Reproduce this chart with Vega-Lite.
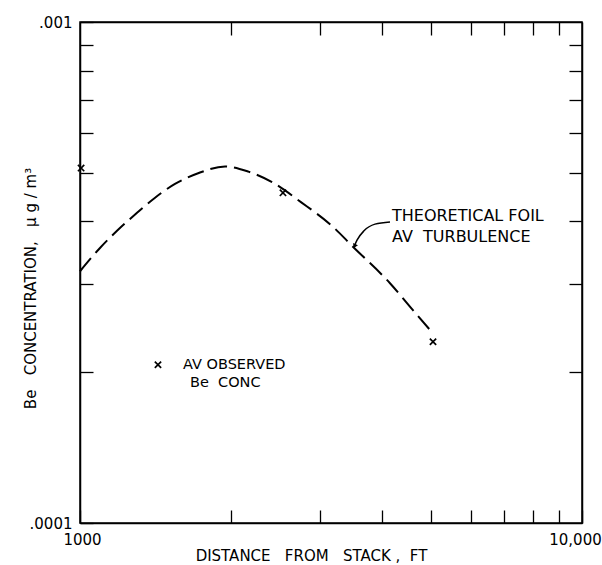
{
  "$schema": "https://vega.github.io/schema/vega-lite/v6.json",
  "width": 502,
  "height": 501,
  "autosize": {"type": "none"},
  "padding": {"left": 80, "top": 22, "right": 20, "bottom": 42},
  "background": "white",
  "config": {
    "view": {"stroke": "black", "strokeWidth": 1.5},
    "axis": {
      "grid": false,
      "domainColor": "black",
      "domainWidth": 1.5,
      "tickColor": "black",
      "tickWidth": 1.3,
      "tickSize": -13,
      "labelColor": "black",
      "titleColor": "black",
      "labelFont": "DejaVu Sans",
      "titleFont": "DejaVu Sans",
      "labelFontSize": 15,
      "titleFontSize": 15,
      "titleFontWeight": "normal"
    }
  },
  "datasets": {
    "curve": [
      {"distance": 1000, "conc": 0.000318},
      {"distance": 1096, "conc": 0.000354},
      {"distance": 1185, "conc": 0.000383},
      {"distance": 1299, "conc": 0.000416},
      {"distance": 1411, "conc": 0.000446},
      {"distance": 1546, "conc": 0.000475},
      {"distance": 1719, "conc": 0.000499},
      {"distance": 1945, "conc": 0.000515},
      {"distance": 2161, "conc": 0.000503},
      {"distance": 2413, "conc": 0.000479},
      {"distance": 2755, "conc": 0.000437},
      {"distance": 3192, "conc": 0.00039},
      {"distance": 3497, "conc": 0.000356},
      {"distance": 4145, "conc": 0.000301},
      {"distance": 4605, "conc": 0.000266},
      {"distance": 5049, "conc": 0.000239}
    ],
    "observed": [
      {"distance": 1005, "conc": 0.000511},
      {"distance": 2537, "conc": 0.000456},
      {"distance": 5049, "conc": 0.00023},
      {"distance": 1430, "conc": 0.000207}
    ],
    "arrow": [
      {"distance": 4145, "conc": 0.000399},
      {"distance": 3870, "conc": 0.000395},
      {"distance": 3679, "conc": 0.000383},
      {"distance": 3563, "conc": 0.000367},
      {"distance": 3515, "conc": 0.000356}
    ],
    "arrowhead": [
      {"distance": 3523, "conc": 0.000357}
    ],
    "annotation": [
      {"distance": 4183, "conc": 0.00041, "text": "THEORETICAL FOIL"},
      {"distance": 4183, "conc": 0.000372, "text": "AV\u00a0\u00a0TURBULENCE"}
    ],
    "legend": [
      {"distance": 1604, "conc": 0.000207, "text": "AV OBSERVED"},
      {"distance": 1656, "conc": 0.00019, "text": "Be\u00a0\u00a0CONC"}
    ]
  },
  "layer": [
    {
      "data": {"name": "curve"},
      "mark": {"type": "line", "color": "black", "strokeWidth": 2, "strokeDash": [17, 7], "interpolate": "monotone"},
      "encoding": {
        "x": {
          "field": "distance", "type": "quantitative",
          "scale": {"type": "log", "domain": [1000, 10000], "nice": false},
          "axis": {
            "orient": "bottom",
            "values": [1000, 2000, 3000, 4000, 5000, 6000, 7000, 8000, 9000, 10000],
            "labelExpr": "datum.value == 1000 ? '1000' : (datum.value == 10000 ? '10,000' : '')",
            "labelOffset": {"condition": {"test": "datum.value == 10000", "value": -7}, "value": 2},
            "labelPadding": 22,
            "labelFlush": false,
            "labelOverlap": false,
            "title": "DISTANCE\u00a0\u00a0\u00a0FROM\u00a0\u00a0\u00a0STACK\u00a0,\u00a0\u00a0FT",
            "titleX": 231,
            "titleY": 32,
            "titleBaseline": "middle",
            "titleAnchor": null
          }
        },
        "y": {
          "field": "conc", "type": "quantitative",
          "scale": {"type": "log", "domain": [0.0001, 0.001], "nice": false},
          "axis": {
            "orient": "left",
            "values": [0.0001, 0.0002, 0.0003, 0.0004, 0.0005, 0.0006, 0.0007, 0.0008, 0.0009, 0.001],
            "labelExpr": "datum.value < 0.000105 ? '.0001' : (datum.value > 0.00095 ? '.001' : '')",
            "labelPadding": 21,
            "labelFlush": false,
            "labelOverlap": false,
            "title": "Be\u00a0\u00a0\u00a0CONCENTRATION,\u00a0\u00a0\u00a0μ\u00a0g\u00a0/\u00a0m³",
            "titleX": -50,
            "titleY": 266,
            "titleAngle": 270,
            "titleAlign": "center",
            "titleBaseline": "middle"
          }
        }
      }
    },
    {
      "data": {"name": "observed"},
      "mark": {"type": "point", "shape": "M-1,-1L1,1M-1,1L1,-1", "filled": false, "stroke": "black", "strokeWidth": 1.7, "size": 40, "opacity": 1},
      "encoding": {
        "x": {
          "field": "distance", "type": "quantitative",
          "axis": {
            "orient": "top",
            "values": [2000, 3000, 4000, 5000, 6000, 7000, 8000, 9000],
            "labels": false,
            "title": null
          }
        },
        "y": {
          "field": "conc", "type": "quantitative",
          "axis": {
            "orient": "right",
            "values": [0.0002, 0.0003, 0.0004, 0.0005, 0.0006, 0.0007, 0.0008, 0.0009],
            "labels": false,
            "title": null
          }
        }
      }
    },
    {
      "data": {"name": "arrow"},
      "mark": {"type": "line", "color": "black", "strokeWidth": 1.5, "interpolate": "monotone"},
      "encoding": {
        "x": {"field": "distance", "type": "quantitative", "axis": null},
        "y": {"field": "conc", "type": "quantitative", "axis": null}
      }
    },
    {
      "data": {"name": "arrowhead"},
      "mark": {"type": "point", "shape": "triangle-down", "filled": true, "color": "black", "size": 28, "angle": 25, "opacity": 1},
      "encoding": {
        "x": {"field": "distance", "type": "quantitative", "axis": null},
        "y": {"field": "conc", "type": "quantitative", "axis": null}
      }
    },
    {
      "data": {"name": "annotation"},
      "mark": {"type": "text", "align": "left", "baseline": "middle", "font": "DejaVu Sans", "fontSize": 16, "color": "black"},
      "encoding": {
        "x": {"field": "distance", "type": "quantitative", "axis": null},
        "y": {"field": "conc", "type": "quantitative", "axis": null},
        "text": {"field": "text"}
      }
    },
    {
      "data": {"name": "legend"},
      "mark": {"type": "text", "align": "left", "baseline": "middle", "font": "DejaVu Sans", "fontSize": 14.5, "color": "black"},
      "encoding": {
        "x": {"field": "distance", "type": "quantitative", "axis": null},
        "y": {"field": "conc", "type": "quantitative", "axis": null},
        "text": {"field": "text"}
      }
    }
  ],
  "resolve": {"axis": {"x": "independent", "y": "independent"}}
}
